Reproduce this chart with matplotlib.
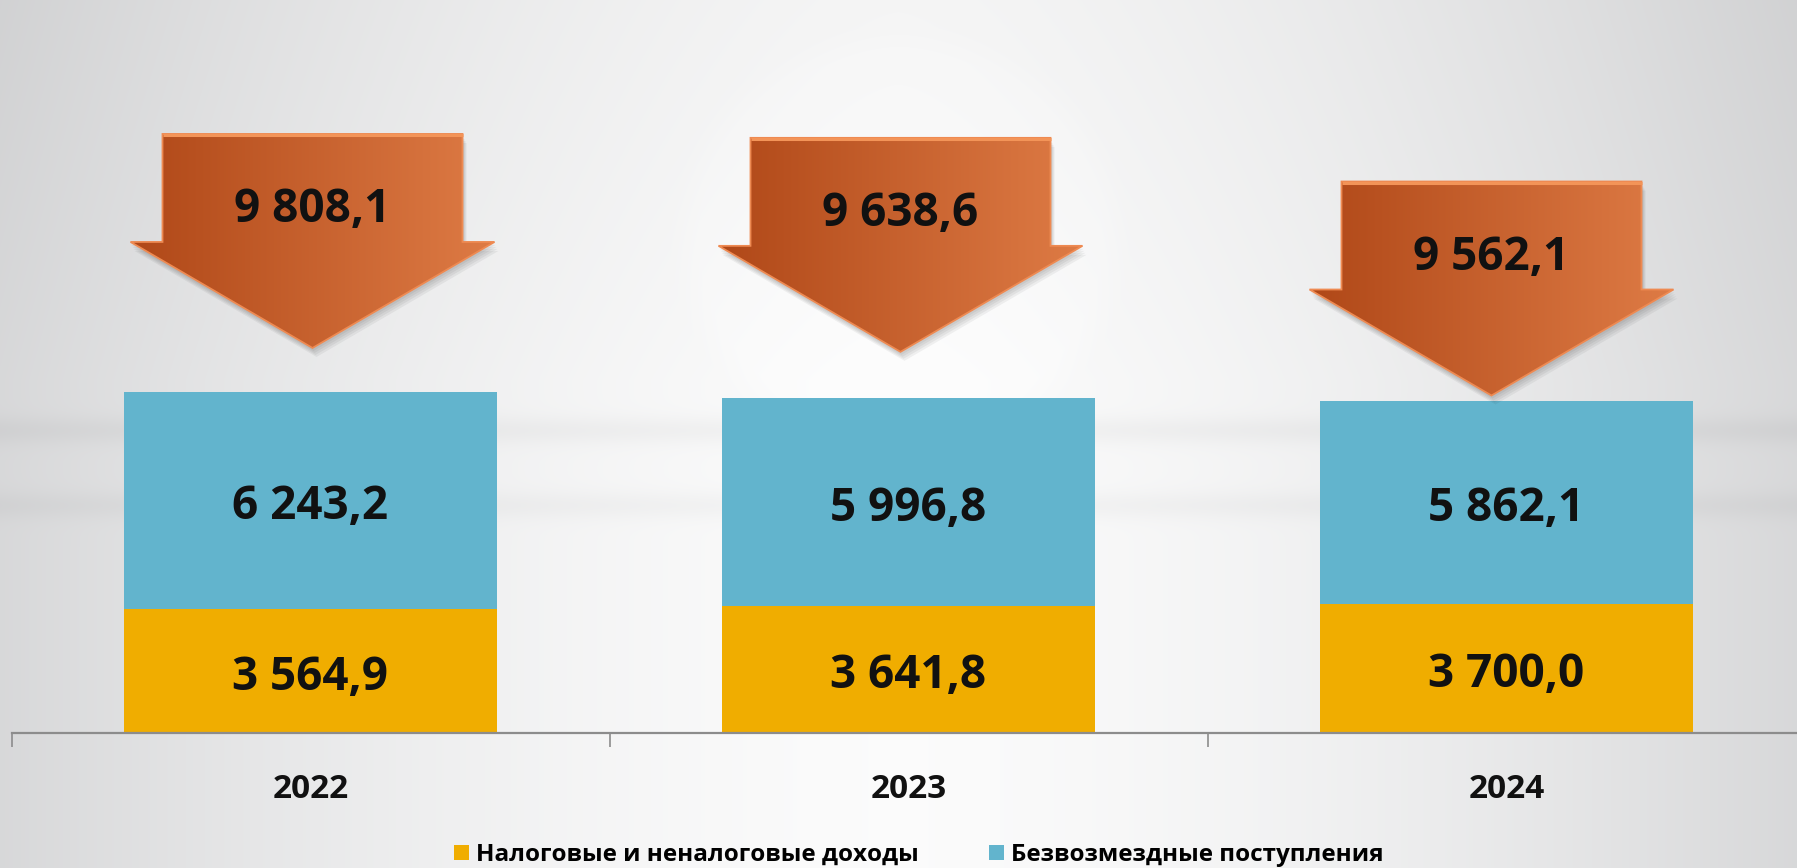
import numpy as np
import matplotlib
matplotlib.use('Agg')
import matplotlib.pyplot as plt
from matplotlib.patches import Polygon

# ---------------- data ----------------
years = ['2022', '2023', '2024']
tax_revenue = [3564.9, 3641.8, 3700.0]          # Налоговые и неналоговые доходы
free_receipts = [6243.2, 5996.8, 5862.1]        # Безвозмездные поступления
totals = [9808.1, 9638.6, 9562.1]
series_names = ['Налоговые и неналоговые доходы', 'Безвозмездные поступления']

# ---------------- style / layout ----------------
C_TAX = '#f0ad00'
C_FREE = '#62b4cd'
C_AXIS = '#8c8c8c'
ARROW_LEFT = np.array([0xb0, 0x48, 0x18]) / 255
ARROW_RIGHT = np.array([0xde, 0x7b, 0x45]) / 255
ARROW_GAP_PX = [44, 46, 5]       # gap between arrow tip and bar top
ARROW_DX_PX = [2, -8, -15]       # horizontal offset of arrow from bar centre
HEAD_H, SHAFT_H, WING_HW, SHAFT_HW = 106, 108, 182, 150
BAR_W = 0.624
Y_TOP = 21080
TXT_DY = -4.5                    # points, vertical nudge of value labels
WEIGHT = 'bold'

plt.rcParams['font.family'] = ['Open Sans', 'DejaVu Sans']

W, H = 1797, 868
fig = plt.figure(figsize=(W / 100, H / 100), dpi=100)

# ---------------- background ----------------
yy, xx = np.mgrid[0:H, 0:W].astype(float)
u = np.abs(2 * xx / (W - 1) - 1)
base = 0.985 - 0.135 * u ** 1.6
base -= 0.025 * np.clip(1 - yy / 380, 0, 1)
base -= 0.03 * np.exp(-((yy - 430) / 14) ** 2)
base -= 0.025 * np.exp(-((yy - 505) / 14) ** 2)
d = np.sqrt(((xx - 900) / 230) ** 2 + ((yy - 240) / 215) ** 2)
base += 0.007 * np.clip((1.0 - d) * 8, 0, 1)
img = np.clip(np.dstack([base - 0.004 * u, base - 0.002 * u, base + 0.003 * u]), 0, 1)
bg = fig.add_axes([0, 0, 1, 1])
bg.imshow(img, extent=(0, 1, 0, 1), aspect='auto', origin='upper', interpolation='bilinear')
bg.set_axis_off()

# ---------------- main axes ----------------
ax = fig.add_axes([11.5 / W, 135 / H, 1794 / W, 733 / H])
ax.patch.set_alpha(0)
x = np.arange(len(years))
b1 = ax.bar(x, tax_revenue, width=BAR_W, color=C_TAX, zorder=2, label=series_names[0])
b2 = ax.bar(x, free_receipts, bottom=tax_revenue, width=BAR_W, color=C_FREE, zorder=2,
            label=series_names[1])
ax.set_xlim(-0.5, len(years) - 0.5)
ax.set_ylim(0, Y_TOP)


def fmt(v):
    return f"{v:,.1f}".replace(',', ' ').replace('.', ',')


for xi, t, f in zip(x, tax_revenue, free_receipts):
    for yc, val in [(t / 2, t), (t + f / 2, f)]:
        ax.annotate(fmt(val), (xi, yc), xytext=(0, TXT_DY), textcoords='offset points',
                    ha='center', va='center', fontsize=33, fontweight=WEIGHT,
                    color='#111111', zorder=3)

for s in ['left', 'right', 'top']:
    ax.spines[s].set_visible(False)
ax.spines['bottom'].set_color(C_AXIS)
ax.spines['bottom'].set_linewidth(1.6)
ax.set_yticks([])
ax.set_xticks(x, labels=years)
ax.set_xticks(np.arange(-0.5, len(years)), minor=True)
ax.tick_params(axis='x', which='major', length=0, pad=41, labelsize=24)
ax.tick_params(axis='x', which='minor', length=10, width=1.2, color=C_AXIS, direction='out')
for lab in ax.get_xticklabels():
    lab.set_fontweight(WEIGHT)
    lab.set_va('center')
    lab.set_color('#111111')

# ---------------- arrows (overlay in pixel coords) ----------------
ov = fig.add_axes([0, 0, 1, 1])
ov.set_xlim(0, W)
ov.set_ylim(0, H)
ov.set_axis_off()
ov.patch.set_alpha(0)

fig.canvas.draw()
grad = np.linspace(0, 1, 256)
grad_img = (ARROW_LEFT[None, :] * (1 - grad[:, None]) + ARROW_RIGHT[None, :] * grad[:, None])[None, :, :]

for i, tot in enumerate(totals):
    px, py = ax.transData.transform((x[i], tot))
    px, py = ov.transData.inverted().transform((px, py))
    cx = px + ARROW_DX_PX[i]
    ty = py + ARROW_GAP_PX[i]
    wy = ty + HEAD_H
    sy = wy + SHAFT_H
    verts = [(cx, ty), (cx + WING_HW, wy), (cx + SHAFT_HW, wy), (cx + SHAFT_HW, sy),
             (cx - SHAFT_HW, sy), (cx - SHAFT_HW, wy), (cx - WING_HW, wy)]
    # soft shadow
    for ox, oy in [(1, -3), (2, -5), (3, -7), (4, -9)]:
        sh = Polygon([(vx + ox, vy + oy) for vx, vy in verts], closed=True,
                     facecolor='black', edgecolor='none', alpha=0.05, zorder=4)
        ov.add_patch(sh)
    poly = Polygon(verts, closed=True, facecolor='none', edgecolor='#ee8a52', lw=1.3, zorder=6)
    ov.add_patch(poly)
    im = ov.imshow(grad_img, extent=(cx - WING_HW, cx + WING_HW, ty, sy), aspect='auto',
                   zorder=5, interpolation='bilinear')
    im.set_clip_path(poly)
    ov.plot([cx - SHAFT_HW, cx + SHAFT_HW], [sy - 1, sy - 1], color='#f39458', lw=2.2,
            solid_capstyle='butt', zorder=6)
    ov.text(cx, sy - 76, fmt(tot), ha='center', va='center', fontsize=33,
            fontweight=WEIGHT, color='#111111', zorder=7)

ov.set_xlim(0, W)
ov.set_ylim(0, H)

# ---------------- legend ----------------
fig.legend(handles=[b1, b2], labels=series_names, loc='center',
           bbox_to_anchor=(919 / W, 13 / H), ncol=2, frameon=False,
           prop={'size': 17.5, 'weight': 'bold'}, handlelength=0.6, handleheight=0.6,
           handletextpad=0.3, columnspacing=2.9, borderpad=0)

fig.savefig('out.png', dpi=100)
